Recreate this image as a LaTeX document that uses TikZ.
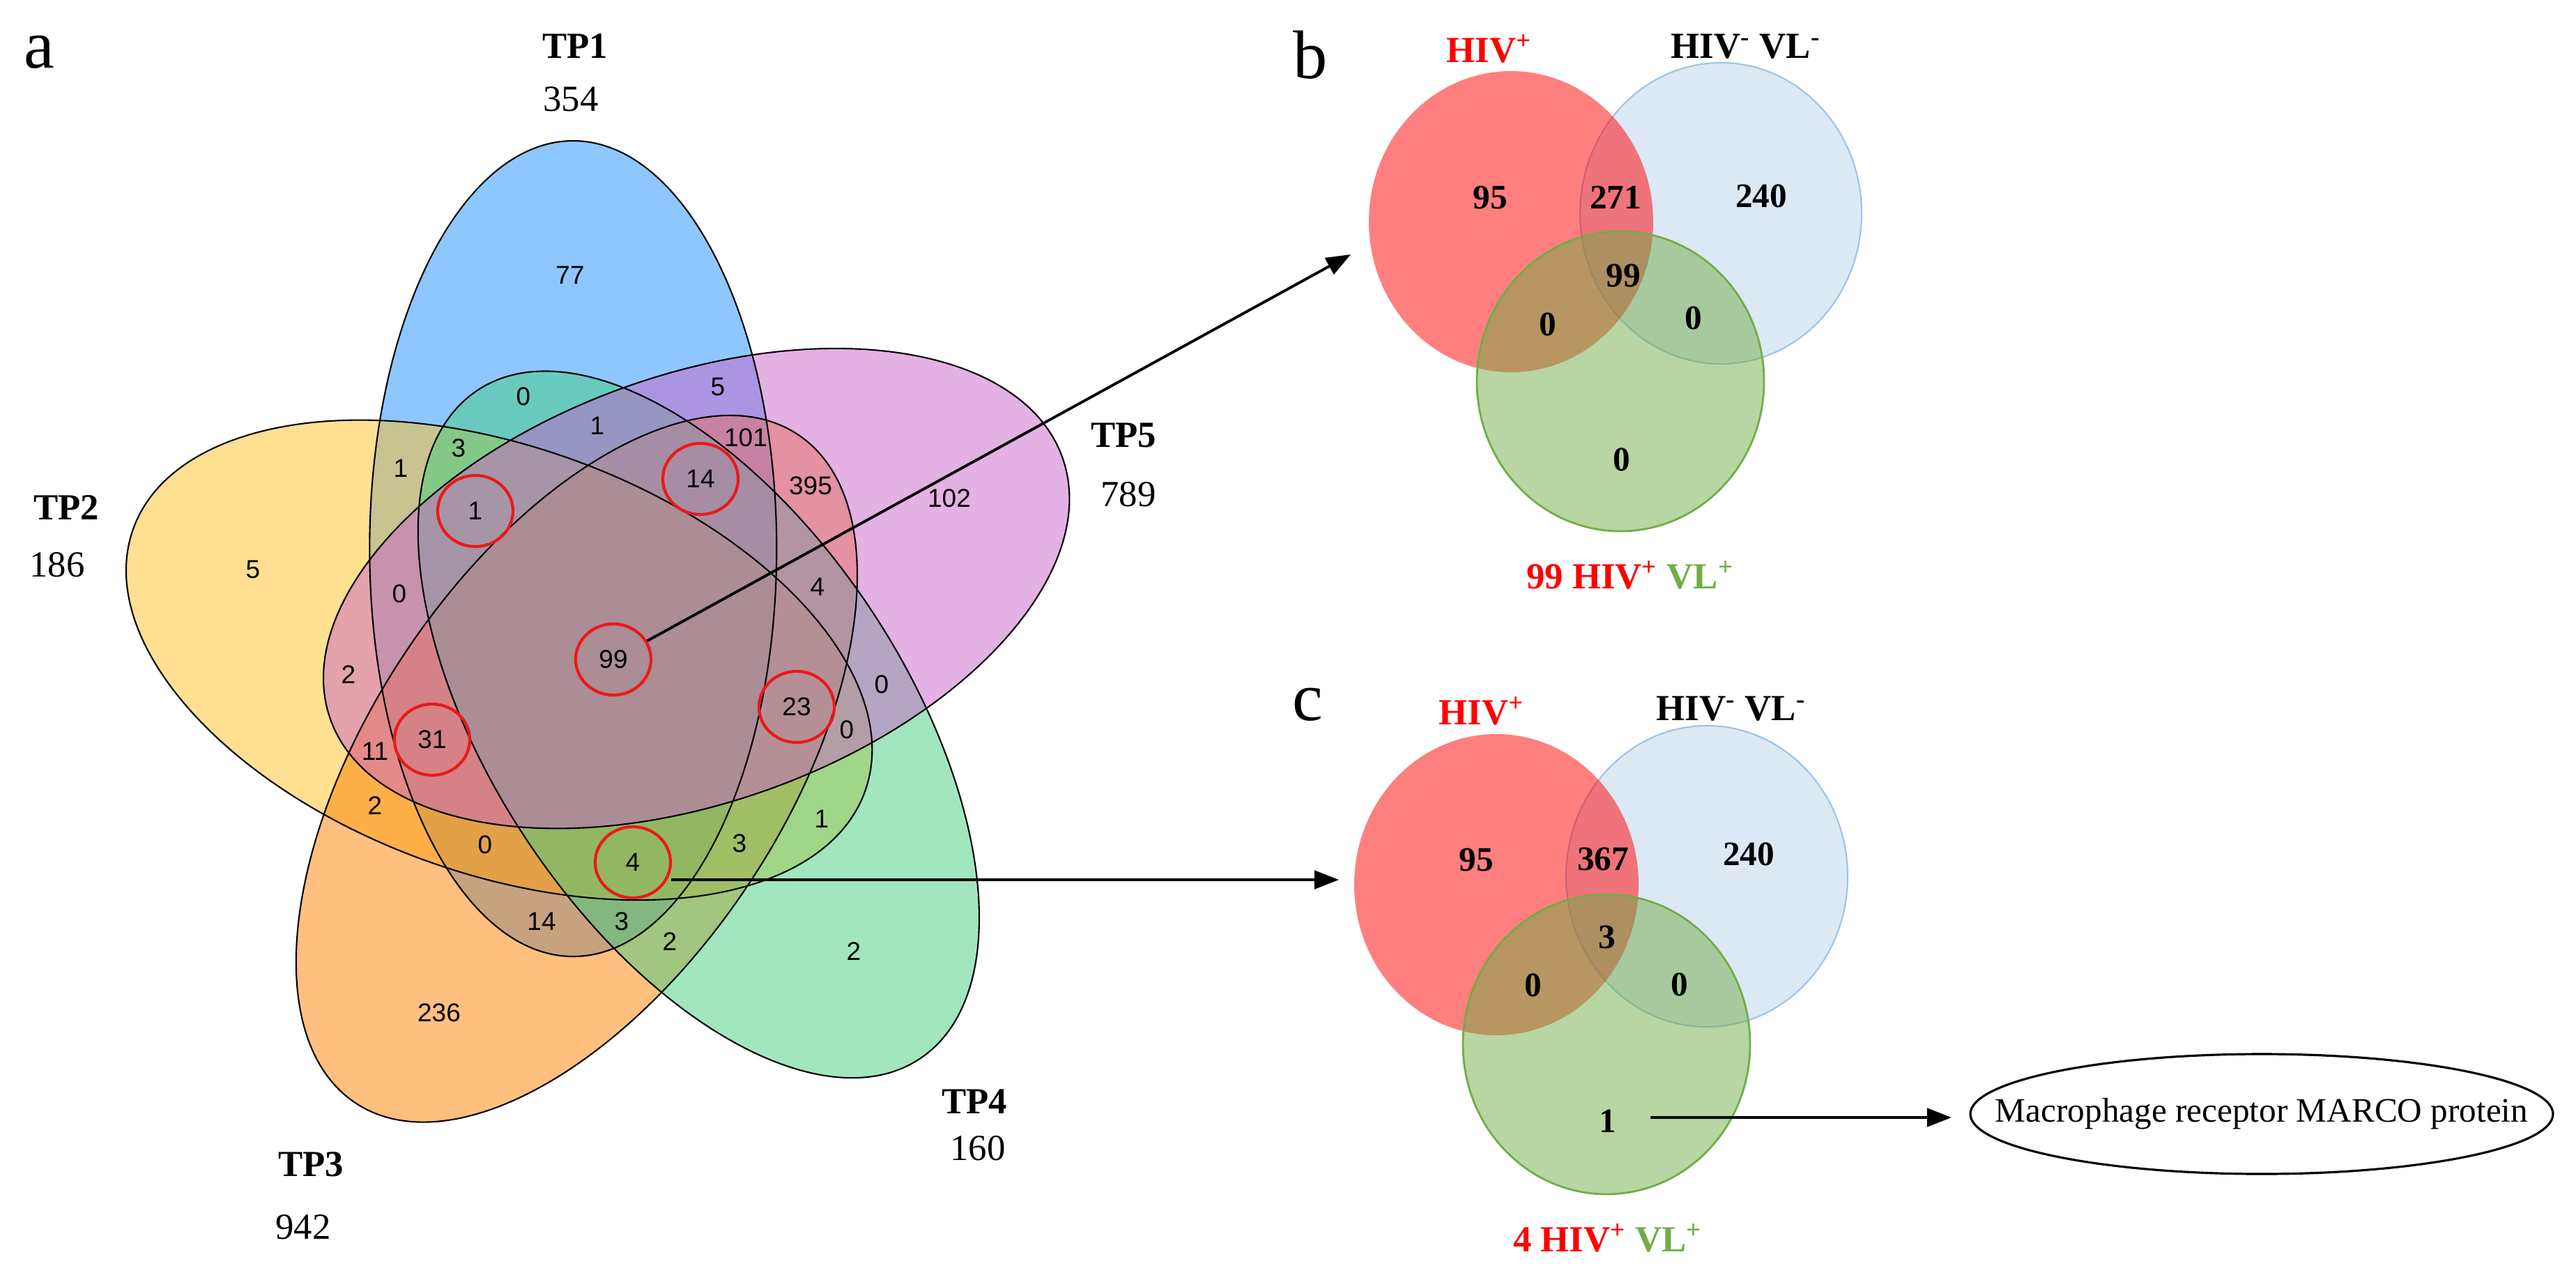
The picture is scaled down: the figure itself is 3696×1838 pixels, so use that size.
\documentclass[tikz,border=0pt]{standalone}
\usepackage{fontspec}
\setmainfont{Liberation Serif}
\newfontfamily\vsans{Liberation Sans}
\usetikzlibrary{shapes.geometric,arrows.meta}
\definecolor{cTPa}{RGB}{30,144,255}
\definecolor{cTPb}{RGB}{255,193,37}
\definecolor{cTPc}{RGB}{255,127,0}
\definecolor{cTPd}{RGB}{67,205,128}
\definecolor{cTPe}{RGB}{200,100,200}
\definecolor{hivred}{RGB}{255,0,0}
\definecolor{vlgreen}{RGB}{112,173,71}
\definecolor{negblue}{RGB}{187,209,235}
\definecolor{negborder}{RGB}{157,195,230}
\definecolor{ringred}{RGB}{235,25,25}
\begin{document}
\begin{tikzpicture}[x=0.01cm,y=-0.01cm,
  vnum/.style={font=\vsans\fontsize{10.5}{12}\selectfont, inner sep=0pt},
  ring/.style={ellipse, draw=ringred, line width=1.2pt, minimum width=1.08cm, minimum height=1.02cm, inner sep=0pt, font=\vsans\fontsize{10.5}{12}\selectfont},
  setname/.style={font=\fontsize{15}{18}\selectfont\bfseries, inner sep=0pt},
  setcount/.style={font=\fontsize{15}{18}\selectfont, inner sep=0pt},
  panellab/.style={font=\fontsize{28}{32}\selectfont, inner sep=0pt},
  rnum/.style={font=\fontsize{14}{16}\selectfont\bfseries, inner sep=0pt},
  rlab/.style={font=\fontsize{15}{18}\selectfont\bfseries, inner sep=0pt},
  outline/.style={draw=black, line width=0.6pt},
  arr/.style={line width=1.1pt, -{Triangle[length=10pt,width=7.5pt]}},
]
\useasboundingbox (0,0) rectangle (3696,1838);

% ---------- panel a: five-set Venn ----------
\begin{scope}[shift={(873.5,944)}, xscale=0.948]
  \foreach \k/\c in {0/cTPa,4/cTPb,3/cTPc,2/cTPd,1/cTPe}
    \fill[\c, fill opacity=0.5, rotate=-72*\k] (-54,-157) ellipse [x radius=308, y radius=585];
  \foreach \k in {0,1,2,3,4}
    \draw[outline, rotate=-72*\k] (-54,-157) ellipse [x radius=308, y radius=585];
\end{scope}

\node[panellab] (pa) at (56,75) {a};
\node[setname] (tp1) at (825,66) {TP1};
\node[setcount] (tp1n) at (819,142) {354};
\node[setname] (tp2) at (95,728) {TP2};
\node[setcount] (tp2n) at (82,810) {186};
\node[setname] (tp3) at (446,1670) {TP3};
\node[setcount] (tp3n) at (435,1760) {942};
\node[setname] (tp4) at (1398,1580) {TP4};
\node[setcount] (tp4n) at (1403,1647) {160};
\node[setname] (tp5) at (1612,624) {TP5};
\node[setcount] (tp5n) at (1619,709) {789};

\node[vnum] (n77) at (818,395) {77};
\node[vnum] (n0a) at (751,569) {0};
\node[vnum] (n5a) at (1030,555) {5};
\node[vnum] (n1a) at (857,611) {1};
\node[vnum] (n3a) at (658,643) {3};
\node[vnum] (n1b) at (575,672) {1};
\node[vnum] (n101) at (1070,628) {101};
\node[vnum] (n395) at (1163,697) {395};
\node[vnum] (n102) at (1362,715) {102};
\node[vnum] (n5b) at (363,817) {5};
\node[vnum] (n0b) at (573,852) {0};
\node[vnum] (n4a) at (1173,842) {4};
\node[vnum] (n2a) at (500,968) {2};
\node[vnum] (n0c) at (1265,982) {0};
\node[vnum] (n0d) at (1215,1047) {0};
\node[vnum] (n11) at (538,1078) {11};
\node[vnum] (n2b) at (538,1156) {2};
\node[vnum] (n1c) at (1179,1175) {1};
\node[vnum] (n0e) at (696,1212) {0};
\node[vnum] (n3b) at (1061,1210) {3};
\node[vnum] (n14b) at (777,1322) {14};
\node[vnum] (n3c) at (892,1322) {3};
\node[vnum] (n2c) at (961,1351) {2};
\node[vnum] (n2d) at (1225,1365) {2};
\node[vnum] (n236) at (630,1453) {236};

\node[ring] (r1) at (682,733) {1};
\node[ring] (r14) at (1005,687) {14};
\node[ring] (r99) at (880,946) {99};
\node[ring] (r23) at (1143,1014) {23};
\node[ring] (r31) at (620,1061) {31};
\node[ring] (r4) at (908,1237) {4};

\coordinate (btip) at (1938,365);
\coordinate (c4s) at (963,1262);
\coordinate (ctip) at (1921,1262);
\draw[arr] (r99) -- (btip);
\draw[arr] (c4s) -- (ctip);

% ---------- panel b ----------
\node[panellab] (pb) at (1880,79) {b};
\fill[negblue, fill opacity=0.5] (2469,306) ellipse [x radius=202, y radius=216];
\draw[negborder, line width=0.6pt] (2469,306) ellipse [x radius=202, y radius=216];
\fill[hivred, fill opacity=0.5] (2168,318) ellipse [x radius=204, y radius=216];
\fill[vlgreen, fill opacity=0.5] (2325,547) ellipse [x radius=206, y radius=215];
\draw[vlgreen, line width=0.8pt] (2325,547) ellipse [x radius=206, y radius=215];
\node[rlab, text=hivred] (bhiv) at (2137,70) {HIV\textsuperscript{+}};
\node[rlab] (bneg) at (2505,67) {HIV\textsuperscript{-} VL\textsuperscript{-}};
\node[rnum] (b95) at (2138,283) {95};
\node[rnum] (b271) at (2318,283) {271};
\node[rnum] (b240) at (2527,281) {240};
\node[rnum] (b99) at (2329,395) {99};
\node[rnum] (b0a) at (2221,465) {0};
\node[rnum] (b0b) at (2430,456) {0};
\node[rnum] (b0c) at (2327,659) {0};
\node[rlab] (bpos) at (2339,825) {\textcolor{hivred}{99 HIV\textsuperscript{+}} \textcolor{vlgreen}{VL\textsuperscript{+}}};

% ---------- panel c ----------
\node[panellab] (pc) at (1876,1011) {c};
\fill[negblue, fill opacity=0.5] (2449,1257) ellipse [x radius=202, y radius=216];
\draw[negborder, line width=0.6pt] (2449,1257) ellipse [x radius=202, y radius=216];
\fill[hivred, fill opacity=0.5] (2147,1269) ellipse [x radius=204, y radius=216];
\fill[vlgreen, fill opacity=0.5] (2305,1498) ellipse [x radius=206, y radius=215];
\draw[vlgreen, line width=0.8pt] (2305,1498) ellipse [x radius=206, y radius=215];
\node[rlab, text=hivred] (chiv) at (2126,1020) {HIV\textsuperscript{+}};
\node[rlab] (cneg) at (2484,1017) {HIV\textsuperscript{-} VL\textsuperscript{-}};
\node[rnum] (c95) at (2118,1233) {95};
\node[rnum] (c367) at (2300,1232) {367};
\node[rnum] (c240) at (2509,1225) {240};
\node[rnum] (c3) at (2306,1344) {3};
\node[rnum] (c0a) at (2200,1413) {0};
\node[rnum] (c0b) at (2410,1412) {0};
\node[rnum] (c1) at (2307,1608) {1};
\node[rlab] (cpos) at (2307,1776) {\textcolor{hivred}{4 HIV\textsuperscript{+}} \textcolor{vlgreen}{VL\textsuperscript{+}}};

\draw[line width=0.9pt] (3245,1598) ellipse [x radius=418, y radius=86];
\node[font=\fontsize{14}{16}\selectfont, inner sep=0pt] (marco) at (3245,1598) {Macrophage receptor MARCO protein};
\coordinate (m1s) at (2368,1603);
\coordinate (m1e) at (2800,1603);
\draw[arr] (m1s) -- (m1e);
\end{tikzpicture}
\end{document}
